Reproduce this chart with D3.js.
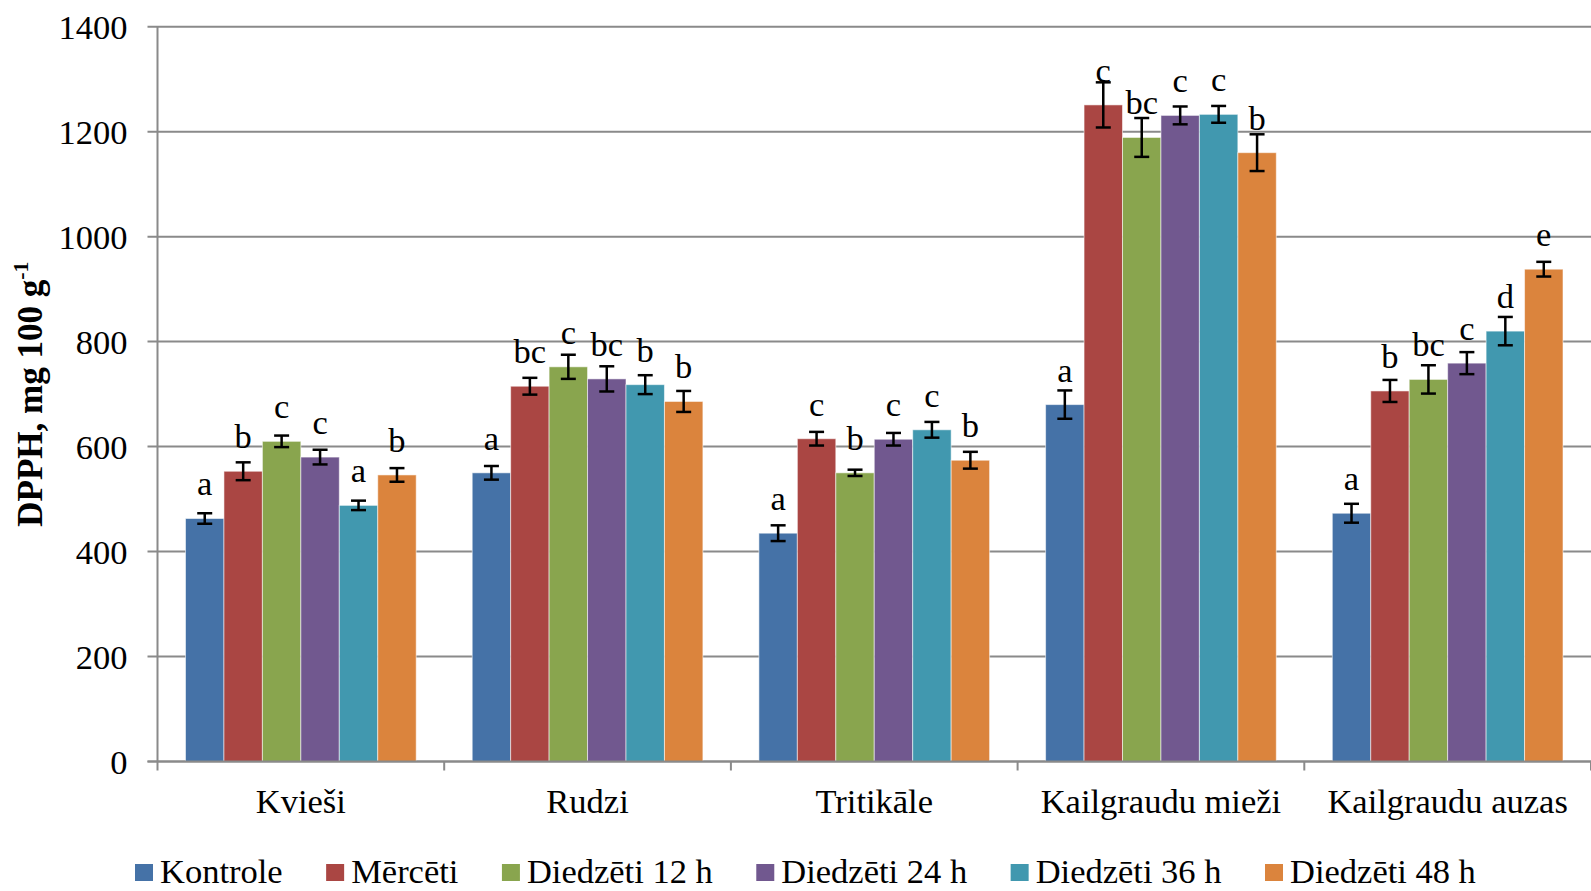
<!DOCTYPE html>
<html>
<head>
<meta charset="utf-8">
<script src="https://cdn.jsdelivr.net/npm/d3@7"></script>
<style>
  html, body { margin: 0; padding: 0; background: #fff; }
  svg { display: block; }
  text { font-family: "Liberation Serif", "Times New Roman", serif; fill: #000; }
</style>
</head>
<body>
<svg id="chart" width="1591" height="891"></svg>
<script>
// Grain types (x categories)
const categories = ["Kvieši", "Rudzi", "Tritikāle", "Kailgraudu mieži", "Kailgraudu auzas"];
// Treatments (series)
const series = ["Kontrole", "Mērcēti", "Diedzēti 12 h", "Diedzēti 24 h", "Diedzēti 36 h", "Diedzēti 48 h"];
const colors = ["#4572A7", "#AA4643", "#89A54E", "#71588F", "#4198AF", "#DB843D"];

// DPPH means per treatment, one value per grain type
const kontrole   = [463, 550, 435, 680, 473];
const mercet     = [553, 715, 615, 1251, 706];
const diedz12    = [610, 752, 550, 1189, 728];
const diedz24    = [580, 729, 614, 1231, 759];
const diedz36    = [488, 718, 632, 1233, 820];
const diedz48    = [546, 686, 574, 1160, 938];

// Standard deviations (error bars)
const sdKontrole = [10, 13, 15, 27, 18];
const sdMercet   = [17, 16, 13, 43, 21];
const sdDiedz12  = [11, 23, 6, 37, 27];
const sdDiedz24  = [14, 24, 12, 17, 21];
const sdDiedz36  = [9, 18, 15, 16, 27];
const sdDiedz48  = [13, 20, 16, 35, 14];

// Significance letters
const letKontrole = ["a", "a", "a", "a", "a"];
const letMercet   = ["b", "bc", "c", "c", "b"];
const letDiedz12  = ["c", "c", "b", "bc", "bc"];
const letDiedz24  = ["c", "bc", "c", "c", "c"];
const letDiedz36  = ["a", "b", "c", "c", "d"];
const letDiedz48  = ["b", "b", "b", "b", "e"];

const yTicks = [0, 200, 400, 600, 800, 1000, 1200, 1400];

const values  = [kontrole, mercet, diedz12, diedz24, diedz36, diedz48];
const sds     = [sdKontrole, sdMercet, sdDiedz12, sdDiedz24, sdDiedz36, sdDiedz48];
const letters = [letKontrole, letMercet, letDiedz12, letDiedz24, letDiedz36, letDiedz48];

const rows = [];
categories.forEach((c, ci) => {
  series.forEach((s, si) => {
    rows.push({ cat: c, ser: s, si, v: values[si][ci], sd: sds[si][ci], lbl: letters[si][ci] });
  });
});

const svg = d3.select("#chart");
const plotLeft = 157.5, plotRight = 1591, plotTop = 26.7, plotBottom = 761.5;
const FS = 34.5;
const SERIF = "'Liberation Serif', 'Times New Roman', serif";

const x0 = d3.scaleBand().domain(categories).range([plotLeft, plotRight]).padding(0);
const gap = 28;
const x1 = d3.scaleBand().domain(series).range([gap, x0.bandwidth() - gap]).padding(0);
const y = d3.scaleLinear().domain([0, 1400]).range([plotBottom, plotTop]);

// Horizontal gridlines
svg.append("g")
  .selectAll("line")
  .data(yTicks)
  .join("line")
  .attr("x1", plotLeft - 10).attr("x2", plotRight)
  .attr("y1", d => y(d)).attr("y2", d => y(d))
  .attr("stroke", "#8a8a8a").attr("stroke-width", 2);

// Y axis labels
const yAxis = d3.axisLeft(y).tickValues(yTicks).tickFormat(d3.format("d")).tickSize(0).tickPadding(30);
const gy = svg.append("g").attr("transform", `translate(${plotLeft},0)`).call(yAxis);
gy.attr("font-family", null).attr("font-size", null);
gy.select(".domain").remove();
gy.selectAll("text")
  .style("font-family", SERIF)
  .style("font-size", FS + "px").attr("fill", "#000").attr("dy", "0.34em");

// Y axis line
svg.append("line")
  .attr("x1", plotLeft).attr("x2", plotLeft).attr("y1", plotTop).attr("y2", plotBottom)
  .attr("stroke", "#8a8a8a").attr("stroke-width", 2);

// Bars
const groups = svg.append("g").selectAll("g")
  .data(categories).join("g")
  .attr("transform", d => `translate(${x0(d)},0)`);

groups.selectAll("rect")
  .data(c => rows.filter(r => r.cat === c))
  .join("rect")
  .attr("x", d => x1(d.ser))
  .attr("width", x1.bandwidth())
  .attr("y", d => y(d.v))
  .attr("height", d => y(0) - y(d.v))
  .attr("fill", d => colors[d.si])
  .attr("stroke", "rgba(255,255,255,0.55)")
  .attr("stroke-width", 1);

// Error bars
const cap = 7.5;
const eb = groups.selectAll("g.eb")
  .data(c => rows.filter(r => r.cat === c))
  .join("g").attr("class", "eb")
  .attr("stroke", "#000").attr("stroke-width", 2.5);
eb.append("line")
  .attr("x1", d => x1(d.ser) + x1.bandwidth() / 2)
  .attr("x2", d => x1(d.ser) + x1.bandwidth() / 2)
  .attr("y1", d => y(d.v + d.sd)).attr("y2", d => y(d.v - d.sd));
eb.append("line")
  .attr("x1", d => x1(d.ser) + x1.bandwidth() / 2 - cap)
  .attr("x2", d => x1(d.ser) + x1.bandwidth() / 2 + cap)
  .attr("y1", d => y(d.v + d.sd)).attr("y2", d => y(d.v + d.sd));
eb.append("line")
  .attr("x1", d => x1(d.ser) + x1.bandwidth() / 2 - cap)
  .attr("x2", d => x1(d.ser) + x1.bandwidth() / 2 + cap)
  .attr("y1", d => y(d.v - d.sd)).attr("y2", d => y(d.v - d.sd));

// Significance letters
groups.selectAll("text.lbl")
  .data(c => rows.filter(r => r.cat === c))
  .join("text").attr("class", "lbl")
  .attr("x", d => x1(d.ser) + x1.bandwidth() / 2)
  .attr("y", d => y(d.v) - 23)
  .attr("text-anchor", "middle")
  .style("font-size", FS + "px")
  .text(d => d.lbl);

// X axis line and category dividers
svg.append("line")
  .attr("x1", plotLeft - 10).attr("x2", plotRight).attr("y1", plotBottom).attr("y2", plotBottom)
  .attr("stroke", "#8a8a8a").attr("stroke-width", 2);
const bounds = categories.map(c => x0(c)).concat([x0(categories[categories.length - 1]) + x0.bandwidth()]);
svg.append("g").selectAll("line")
  .data(bounds).join("line")
  .attr("x1", d => d).attr("x2", d => d)
  .attr("y1", plotBottom).attr("y2", plotBottom + 9)
  .attr("stroke", "#8a8a8a").attr("stroke-width", 2);

// Category labels
svg.append("g").selectAll("text")
  .data(categories).join("text")
  .attr("x", d => x0(d) + x0.bandwidth() / 2)
  .attr("y", 813)
  .attr("text-anchor", "middle")
  .style("font-size", FS + "px")
  .text(d => d);

// Y axis title
const yt = svg.append("text")
  .attr("transform", `translate(42,${(plotTop + plotBottom) / 2}) rotate(-90)`)
  .attr("text-anchor", "middle")
  .style("font-size", "35px")
  .attr("font-weight", "bold");
yt.append("tspan").text("DPPH, mg 100 g");
yt.append("tspan").style("font-size", "22px").attr("dy", -14).text("-1");

// Legend
const leg = svg.append("g");
let lx = 135;
series.forEach((s, i) => {
  leg.append("rect")
    .attr("x", lx).attr("y", 864).attr("width", 18).attr("height", 17)
    .attr("fill", colors[i]);
  const t = leg.append("text")
    .attr("x", lx + 25).attr("y", 883)
    .style("font-size", FS + "px")
    .text(s);
  lx += 25 + t.node().getComputedTextLength() + 43.5;
});
</script>
</body>
</html>
